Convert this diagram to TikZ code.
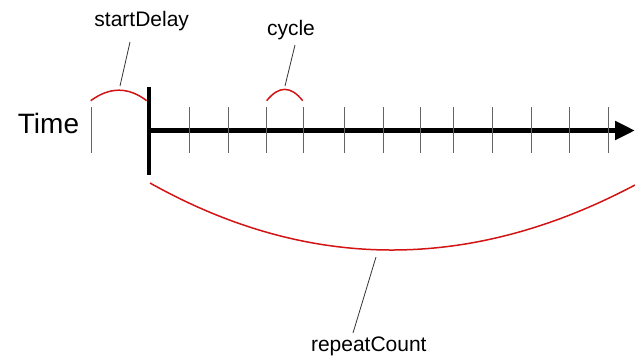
\documentclass[tikz,border=0pt]{standalone}
\usepackage{fontspec}
\setmainfont{Liberation Sans}
\usetikzlibrary{arrows.meta}

\definecolor{spanred}{RGB}{210,20,20}
\definecolor{tickgray}{RGB}{100,100,100}

\tikzset{
  axisline/.style={line width=5pt, -{Triangle[length=20pt,width=18pt]}},
  startbar/.style={line width=3.5pt},
  tickmark/.style={tickgray, line width=1pt},
  span/.style={spanred, line width=1.5pt},
  leader/.style={black!80, line width=0.8pt},
  biglabel/.style={anchor=base, inner sep=0pt, font=\fontsize{28}{32}\selectfont},
  spanlabel/.style={anchor=base, inner sep=0pt, font=\fontsize{21}{25}\selectfont},
}

\begin{document}
\begin{tikzpicture}[x=1pt, y=-1pt]
  \useasboundingbox (0,0) rectangle (635,357);

  % labels
  \node[biglabel] (time) at (48.5,133.3) {Time};
  \node[spanlabel] (sdLabel) at (141.7,26.7) {startDelay};
  \node[spanlabel] (cyLabel) at (291,35) {cycle};
  \node[spanlabel] (rcLabel) at (368.8,351.7) {repeatCount};

  % time axis
  \coordinate (axisStart) at (149,130.5);
  \coordinate (axisEnd) at (635,130.5);
  \coordinate (barTop) at (149,87);
  \coordinate (barBot) at (149,175);
  \draw[axisline] (axisStart) -- (axisEnd);
  \draw[startbar] (barTop) -- (barBot);

  % tick marks (the first one marks the origin before the start delay)
  \foreach \x in {91,189,228,266,303,344,383,420,453,492,531,569,608}
    \draw[tickmark] (\x,107) -- (\x,153);

  % startDelay span
  \coordinate (sdL) at (90.7,100.7);
  \coordinate (sdR) at (146.7,100.7);
  \coordinate (sdTop) at (120,86);
  \coordinate (sdFoot) at (130,42);
  \draw[span] (sdL) .. controls (109.7,86.7) and (128.3,86.7) .. (sdR);
  \draw[leader] (sdTop) -- (sdFoot);

  % cycle span
  \coordinate (cyL) at (266.7,100.7);
  \coordinate (cyR) at (302.7,100.7);
  \coordinate (cyTop) at (285,86);
  \coordinate (cyFoot) at (295,45);
  \draw[span] (cyL) .. controls (278.7,85.6) and (290.7,85.6) .. (cyR);
  \draw[leader] (cyTop) -- (cyFoot);

  % repeatCount span
  \coordinate (rcL) at (150,183);
  \coordinate (rcR) at (635,185);
  \coordinate (rcBot) at (376,257);
  \coordinate (rcFoot) at (353,333);
  \draw[span] (rcL) .. controls (308.3,271.7) and (470,272.3) .. (rcR);
  \draw[leader] (rcBot) -- (rcFoot);
\end{tikzpicture}
\end{document}
